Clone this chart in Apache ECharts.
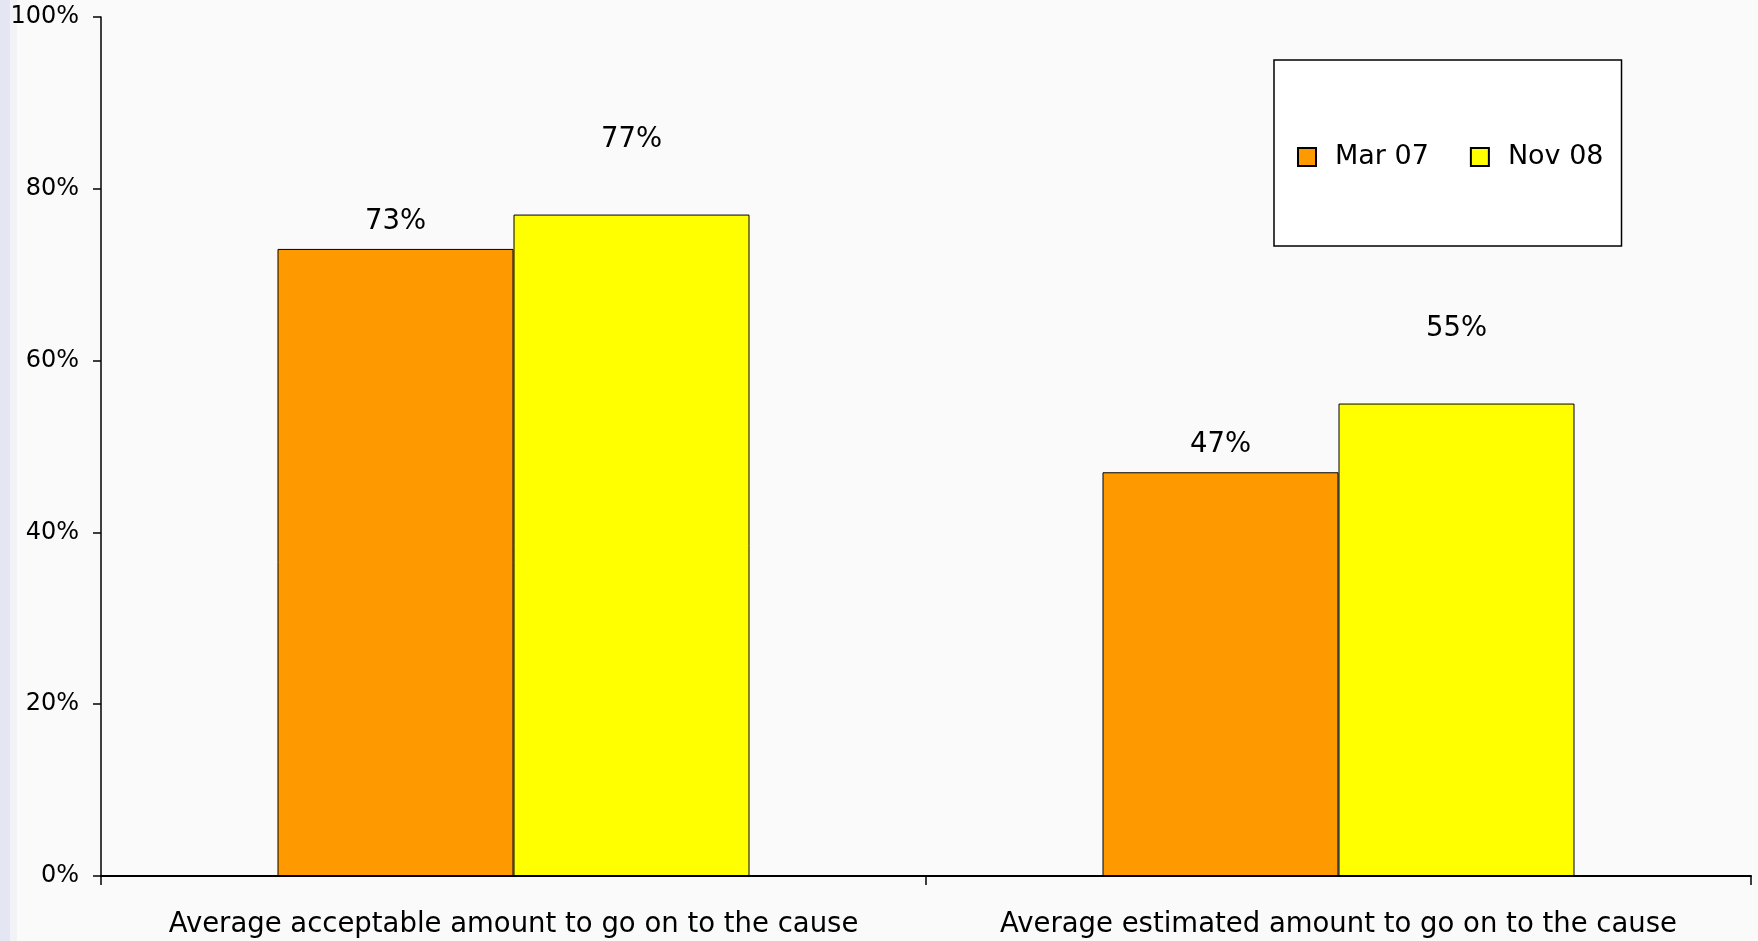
<!DOCTYPE html>
<html>
<head>
<meta charset="utf-8">
<script src="https://cdn.jsdelivr.net/npm/echarts@6/dist/echarts.min.js"></script>
<style>
html,body{margin:0;padding:0;background:#fafafa;}
#chart{width:1758px;height:941px;}
</style>
</head>
<body>
<div id="chart"></div>
<script>
const categories = ['Average acceptable amount to go on to the cause', 'Average estimated amount to go on to the cause'];
const seriesNames = ['Mar 07', 'Nov 08'];
const mar07 = [73, 47];
const nov08 = [77, 55];
const yTicks = [0, 20, 40, 60, 80, 100];

const FONT = '"DejaVu Sans", Verdana, sans-serif';
const chart = echarts.init(document.getElementById('chart'));
chart.setOption({
  backgroundColor: '#fafafa',
  animation: false,
  graphic: [
    {type: 'rect', left: 0, top: 0, shape: {width: 10, height: 941}, style: {fill: '#e4e6f4'}, z: -1},
    {type: 'rect', left: 10, top: 0, shape: {width: 7, height: 941}, style: {fill: '#f2f2f7'}, z: -1}
  ],
  grid: {left: 101, right: 7, top: 17, bottom: 65, containLabel: false},
  legend: {
    data: seriesNames,
    left: 1274, top: 60,
    orient: 'horizontal',
    backgroundColor: '#ffffff',
    borderColor: '#000000',
    borderWidth: 1.5,
    padding: [82, 18, 74, 23],
    itemWidth: 18, itemHeight: 18,
    itemGap: 41,
    icon: 'rect',
    textStyle: {fontFamily: FONT, fontSize: 27, color: '#000', padding: [0, 0, 0, 14], lineHeight: 30}
  },
  xAxis: {
    type: 'category',
    data: categories,
    axisLine: {lineStyle: {color: '#000', width: 2}},
    axisTick: {show: true, length: 9, lineStyle: {color: '#000', width: 1.5}},
    axisLabel: {fontFamily: FONT, fontSize: 27.5, color: '#000', margin: 35, interval: 0}
  },
  yAxis: {
    type: 'value',
    min: 0, max: 100, interval: 20,
    splitLine: {show: false},
    axisLine: {show: true, lineStyle: {color: '#000', width: 1.5}},
    axisTick: {show: true, length: 8, lineStyle: {color: '#000', width: 1.5}},
    axisLabel: {fontFamily: FONT, fontSize: 24, color: '#000', margin: 22,
      formatter: v => yTicks.includes(v) ? v + '%' : ''}
  },
  series: [
    {
      name: seriesNames[0], type: 'bar', data: mar07,
      barWidth: 236, barGap: '0%',
      itemStyle: {color: '#ff9900', borderColor: '#000', borderWidth: 1},
      label: {show: true, position: 'top', distance: 13, formatter: '{c}%', fontFamily: FONT, fontSize: 27.5, color: '#000'}
    },
    {
      name: seriesNames[1], type: 'bar', data: nov08,
      barWidth: 236, barGap: '0%',
      itemStyle: {color: '#ffff00', borderColor: '#000', borderWidth: 1},
      label: {show: true, position: 'top', distance: 61, formatter: '{c}%', fontFamily: FONT, fontSize: 27.5, color: '#000'}
    }
  ]
});
</script>
</body>
</html>
